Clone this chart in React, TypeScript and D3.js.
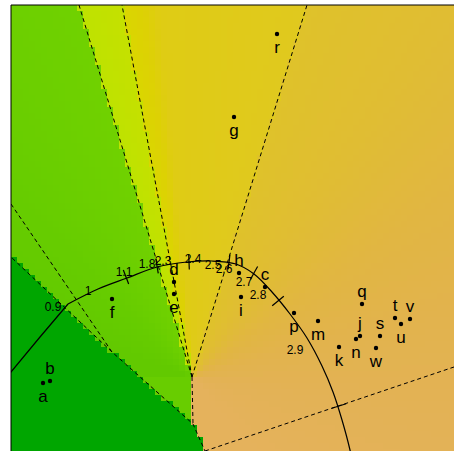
import React from "react";
import * as d3 from "d3";

const WIDTH = 454;
const HEIGHT = 451;

// Sample scores in biplot coordinates
const sampleIds = ["a", "b", "c", "d", "e", "f", "g", "h", "i", "j", "k", "m", "n", "p", "q", "r", "s", "t", "u", "v", "w"];
const sampleX = [-1.49, -1.42, 0.73, -0.18, -0.18, -0.8, 0.42, 0.47, 0.49, 1.68, 1.47, 1.26, 1.64, 1.02, 1.7, 0.85, 1.88, 2.03, 2.09, 2.18, 1.84];
const sampleY = [-0.06, -0.04, 0.9, 0.95, 0.83, 0.78, 2.6, 1.04, 0.8, 0.41, 0.3, 0.56, 0.38, 0.64, 0.73, 3.43, 0.41, 0.59, 0.53, 0.58, 0.29];
const sampleLabelSide = ["below", "above", "above", "above", "below", "below", "below", "above", "below", "above", "below", "below", "below", "below", "above", "below", "above", "above", "below", "above", "below"];

// Nonlinear axis trajectory
const axisLegX = [-1.86, -1.52, -1.24];
const axisLegY = [-0.01, 0.4, 0.73];
const axisPathX = [-1.24, -0.94, -0.65, -0.35, -0.05, 0.2, 0.44, 0.62, 0.8, 0.98, 1.15, 1.3, 1.41, 1.5, 1.58, 1.64];
const axisPathY = [0.73, 0.88, 0.99, 1.1, 1.15, 1.16, 1.13, 1.03, 0.85, 0.63, 0.39, 0.11, -0.15, -0.43, -0.73, -1.03];
const axisTickX = [-1.23, -0.66, -0.35, -0.03, 0.37, 0.62, 0.86, 1.47];
const axisTickY = [0.72, 1.0, 1.11, 1.15, 1.15, 1.04, 0.76, -0.29];
const axisMarkerLabels = ["0.9", "1", "1.1", "1.8", "2.3", "2.4", "2.5", "2.6", "2.7", "2.8", "2.9", "3"];
const axisMarkerX = [-1.39, -1.04, -0.68, -0.45, -0.29, 0.01, 0.21, 0.32, 0.52, 0.66, 1.03, 1.5];
const axisMarkerY = [0.7, 0.86, 1.05, 1.13, 1.16, 1.18, 1.12, 1.08, 0.95, 0.82, 0.27, -0.79];

// Prediction region boundaries
const splitGreenLime: [number, number][] = [[0, 0], [-1.13, 3.72]];
const splitLimeYellow: [number, number][] = [[0, 0], [-0.7, 3.72]];
const splitYellowOrange: [number, number][] = [[0, 0], [1.15, 3.72]];
const splitCentre: [number, number][] = [[0, 0], [0.01, -0.47]];
const splitUpperLeft: [number, number][] = [[-1.81, 1.73], [-0.8, 0.25]];
const splitDarkGreen: [number, number][] = [[-1.9, 1.285], [-1.81, 1.2], [-0.8, 0.25], [0.01, -0.47], [0.13, -0.74], [0.25, -1.0], [0.3, -1.2]];
const splitLowerRight: [number, number][] = [[0.13, -0.74], [2.62, 0.1], [3.0, 0.23]];
const boundaryLines = [splitGreenLime, splitLimeYellow, splitYellowOrange, splitCentre, splitUpperLeft, splitDarkGreen, splitLowerRight];

// Region colours along the angle around the centre (degrees, 0 = up)
const greenStops: [number, string][] = [[-70, "#62C900"], [-45, "#66CC00"], [-17, "#70D100"]];
const limeStops: [number, string][] = [[-17, "#BEE200"], [-11, "#C4E100"]];
const yellowStops: [number, string][] = [[-10.6, "#DAD600"], [-7.5, "#DDD104"], [-5, "#DFCC14"], [17, "#E0C91E"]];
const orangeStops: [number, string][] = [[17, "#DFC22A"], [35, "#E0BD33"], [55, "#E1B642"], [75, "#E2B34D"], [100, "#E3B256"], [140, "#E5B25C"]];
const darkGreen = "#00A600";

const xScale = d3.scaleLinear().domain([-1.81, 3.0]).range([11, 492]);
const yScale = d3.scaleLinear().domain([3.72, -1.1]).range([5, 487]);

const angleOf = (x: number, y: number) => (Math.atan2(x, y) * 180) / Math.PI;

function fromStops(stops: [number, string][], t: number): string {
  if (t <= stops[0][0]) return stops[0][1];
  for (let i = 1; i < stops.length; i++) {
    if (t <= stops[i][0]) {
      const [a, ca] = stops[i - 1];
      const [b, cb] = stops[i];
      return d3.interpolateRgb(ca, cb)((t - a) / (b - a));
    }
  }
  return stops[stops.length - 1][1];
}

const darkPolygon: [number, number][] = [...splitDarkGreen, [-1.9, -1.2]];
const thetaGL = angleOf(splitGreenLime[1][0], splitGreenLime[1][1]);
const thetaLY = angleOf(splitLimeYellow[1][0], splitLimeYellow[1][1]);
const thetaYO = angleOf(splitYellowOrange[1][0], splitYellowOrange[1][1]);

function regionColour(x: number, y: number): string {
  if (d3.polygonContains(darkPolygon, [x, y])) return darkGreen;
  const th = angleOf(x, y);
  if (y >= 0) {
    if (th < thetaGL) return fromStops(greenStops, th);
    if (th < thetaLY) return fromStops(limeStops, th);
    if (th < thetaYO) return fromStops(yellowStops, th);
    return fromStops(orangeStops, th);
  }
  const xc = splitCentre[1][0] * (y / splitCentre[1][1]);
  if (x < xc) return fromStops(greenStops, -40);
  return fromStops(orangeStops, th);
}

const CELL = 6;

export default function App() {
  const cells: { px: number; py: number; fill: string }[] = [];
  for (let py = 5; py < HEIGHT; py += CELL) {
    for (let px = 11; px < WIDTH; px += CELL) {
      const x = xScale.invert(px + CELL / 2);
      const y = yScale.invert(py + CELL / 2);
      cells.push({ px, py, fill: regionColour(x, y) });
    }
  }

  const lineGen = d3
    .line<[number, number]>()
    .x((d) => xScale(d[0]))
    .y((d) => yScale(d[1]));

  const legPts: [number, number][] = axisLegX.map((x, i) => [x, axisLegY[i]]);
  const axisPts: [number, number][] = axisPathX.map((x, i) => [x, axisPathY[i]]);
  const axisLine = d3
    .line<[number, number]>()
    .x((d) => xScale(d[0]))
    .y((d) => yScale(d[1]))
    .curve(d3.curveCatmullRom.alpha(0.5));

  // tick direction from the nearest segment of the trajectory
  const axisPix = [...legPts, ...axisPts].map(([x, y]) => [xScale(x), yScale(y)]);
  const ticks = axisTickX.map((tx, i) => {
    const px = xScale(tx);
    const py = yScale(axisTickY[i]);
    let best = 0;
    let bestD = Infinity;
    for (let k = 0; k < axisPix.length - 1; k++) {
      const mx = (axisPix[k][0] + axisPix[k + 1][0]) / 2;
      const my = (axisPix[k][1] + axisPix[k + 1][1]) / 2;
      const d = (mx - px) ** 2 + (my - py) ** 2;
      if (d < bestD) {
        bestD = d;
        best = k;
      }
    }
    const dx = axisPix[best + 1][0] - axisPix[best][0];
    const dy = axisPix[best + 1][1] - axisPix[best][1];
    const len = Math.hypot(dx, dy) || 1;
    const nx = -dy / len;
    const ny = dx / len;
    const h = 7.5;
    return { x1: px - nx * h, y1: py - ny * h, x2: px + nx * h, y2: py + ny * h };
  });

  const font = "'Liberation Sans', Arial, Helvetica, sans-serif";

  return (
    <svg
      width={WIDTH}
      height={HEIGHT}
      style={{ position: "absolute", left: 0, top: 0, display: "block", background: "#ffffff" }}
    >
      <defs>
        <clipPath id="plot-area">
          <rect x={11} y={5} width={WIDTH} height={HEIGHT} />
        </clipPath>
      </defs>
      <g clipPath="url(#plot-area)">
        <g shapeRendering="crispEdges">
          {cells.map((c, i) => (
            <rect key={i} x={c.px} y={c.py} width={CELL} height={CELL} fill={c.fill} />
          ))}
        </g>
        {boundaryLines.map((pts, i) => (
          <path key={i} d={lineGen(pts) || ""} fill="none" stroke="#000" strokeWidth={1} strokeDasharray="4,3" />
        ))}
        <path d={lineGen(legPts) || ""} fill="none" stroke="#000" strokeWidth={1.2} />
        <path d={axisLine(axisPts) || ""} fill="none" stroke="#000" strokeWidth={1.2} />
        {ticks.map((t, i) => (
          <line key={i} x1={t.x1} y1={t.y1} x2={t.x2} y2={t.y2} stroke="#000" strokeWidth={1.2} />
        ))}
        {axisMarkerLabels.map((lab, i) => (
          <text
            key={lab}
            x={xScale(axisMarkerX[i])}
            y={yScale(axisMarkerY[i])}
            fontFamily={font}
            fontSize={12}
            textAnchor="middle"
            dominantBaseline="central"
            fill="#000"
          >
            {lab}
          </text>
        ))}
        {sampleIds.map((id, i) => {
          const cx = xScale(sampleX[i]);
          const cy = yScale(sampleY[i]);
          return (
            <g key={id}>
              <circle cx={cx} cy={cy} r={2.2} fill="#000" />
              <text
                x={cx}
                y={sampleLabelSide[i] === "below" ? cy + 18.5 : cy - 7}
                fontFamily={font}
                fontSize={17}
                textAnchor="middle"
                fill="#000"
              >
                {id}
              </text>
            </g>
          );
        })}
      </g>
      <line x1={11} y1={5} x2={WIDTH} y2={5} stroke="#000" strokeWidth={1} />
      <line x1={11} y1={5} x2={11} y2={HEIGHT} stroke="#000" strokeWidth={1} />
    </svg>
  );
}
